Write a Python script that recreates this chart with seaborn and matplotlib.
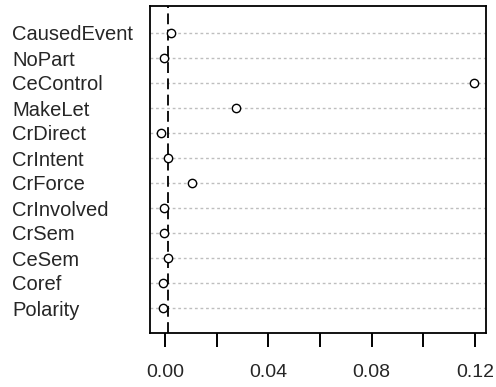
import numpy as np
import pandas as pd
import matplotlib
matplotlib.use("Agg")
import matplotlib.pyplot as plt
import seaborn as sns

# feature names, top to bottom
features = ["CausedEvent", "NoPart", "CeControl", "MakeLet", "CrDirect", "CrIntent",
            "CrForce", "CrInvolved", "CrSem", "CeSem", "Coref", "Polarity"]
importance = [0.0023, -0.0004, 0.1195, 0.0275, -0.0015, 0.0010,
              0.0105, -0.0004, -0.0004, 0.0010, -0.0008, -0.0008]
ref_line = 0.0013
xticks = [0.00, 0.02, 0.04, 0.06, 0.08, 0.10, 0.12]
xticklabels = ["0.00", "", "0.04", "", "0.08", "", "0.12"]

df = pd.DataFrame({"feature": features, "importance": importance})
df["pos"] = np.arange(len(features))

sns.set_style("white")
plt.rcParams["font.family"] = ["Liberation Sans", "DejaVu Sans"]

fig = plt.figure(figsize=(4.96, 3.87), dpi=100)
ax = fig.add_axes([150 / 496, 1 - 333 / 387, 336 / 496, 327 / 387])

# dotted guide lines for every row
for p in df["pos"]:
    ax.axhline(p, color="#bebebe", lw=1, ls=(0, (2, 2)), zorder=1)

ax.axvline(ref_line, color="black", lw=1.3, ls=(0, (6, 3)), zorder=2)

sns.scatterplot(data=df, x="importance", y="pos", ax=ax, marker="o",
                facecolors="white", edgecolor="black", linewidth=1,
                s=36, zorder=3, legend=False)

ax.set_xlim(-0.0058, 0.1243)
ax.set_ylim(len(features) - 1 + 1.0, -1.08)

ax.set_yticks(df["pos"])
ax.set_yticklabels(features, ha="left", fontsize=14.5)
ax.tick_params(axis="y", length=0, pad=138 * 72 / 100)

ax.set_xticks(xticks)
ax.set_xticklabels(xticklabels, fontsize=14)
ax.tick_params(axis="x", direction="out", length=10, width=1.4, pad=12,
               bottom=True, color="black")

for s in ax.spines.values():
    s.set_visible(True)
    s.set_color("black")
    s.set_linewidth(1.3)

ax.set_xlabel("")
ax.set_ylabel("")

fig.savefig("out.png", dpi=100)
